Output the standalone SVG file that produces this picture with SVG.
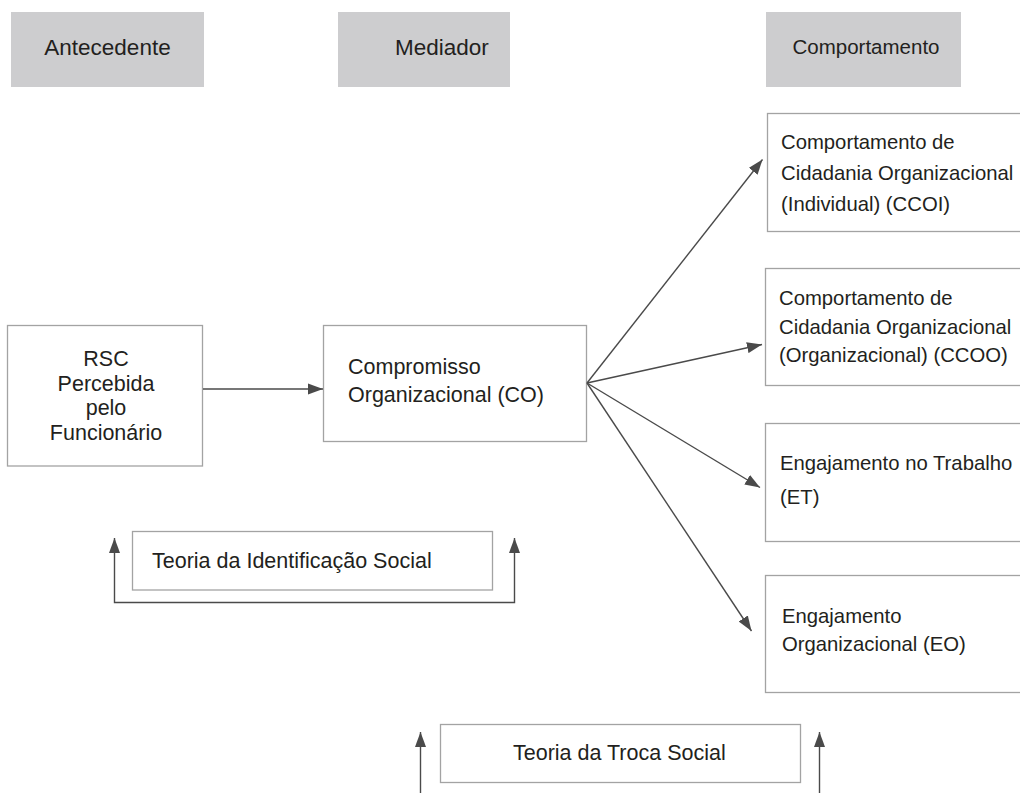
<svg xmlns="http://www.w3.org/2000/svg" width="1020" height="793" viewBox="0 0 1020 793">
<style>
text{font-family:"Liberation Sans",Arial,Helvetica,sans-serif;fill:#231f20;}
.hdr{fill:#cdcdcf;stroke:none;}
.box{fill:#ffffff;stroke:#a3a3a3;stroke-width:1.3;}
.h{font-size:22.5px;}
.t{font-size:21.5px;}
.r{font-size:20.3px;}
.con{fill:none;stroke:#4a4a4a;stroke-width:1.4;}
</style>
<defs>
<marker id="ah" markerUnits="userSpaceOnUse" markerWidth="16" markerHeight="12" refX="15" refY="5.5" orient="auto-start-reverse" viewBox="0 0 16 11">
<path d="M0,0 L15,5.5 L0,11 z" fill="#4a4a4a"/>
</marker>
</defs>
<rect width="1020" height="793" fill="#ffffff"/>

<g id="hdr-antecedente">
<rect class="hdr" x="11" y="12" width="193" height="75"/>
<text class="h" x="107.5" y="55" text-anchor="middle">Antecedente</text>
</g>
<g id="hdr-mediador">
<rect class="hdr" x="338" y="12" width="172" height="75"/>
<text class="h" x="395" y="55">Mediador</text>
</g>
<g id="hdr-comportamento">
<rect class="hdr" x="766" y="12" width="195" height="75"/>
<text class="r" x="792.5" y="54" style="font-size:20.5px">Comportamento</text>
</g>

<g id="node-rsc">
<rect class="box" x="7.5" y="325.5" width="195" height="140.5"/>
<text class="t" x="106" y="366" text-anchor="middle">RSC</text>
<text class="t" x="106" y="391" text-anchor="middle">Percebida</text>
<text class="t" x="106" y="415" text-anchor="middle">pelo</text>
<text class="t" x="106" y="440" text-anchor="middle">Funcionário</text>
</g>

<g id="node-co">
<rect class="box" x="323.5" y="325.5" width="263" height="116"/>
<text class="t" x="348" y="374">Compromisso</text>
<text class="t" x="348" y="402">Organizacional (CO)</text>
</g>

<g id="node-ccoi">
<rect class="box" x="767.5" y="113.5" width="260" height="118"/>
<text class="r" x="781" y="149">Comportamento de</text>
<text class="r" x="781" y="180">Cidadania Organizacional</text>
<text class="r" x="781" y="211">(Individual) (CCOI)</text>
</g>

<g id="node-ccoo">
<rect class="box" x="765.5" y="268.5" width="260" height="117"/>
<text class="r" x="779" y="305">Comportamento de</text>
<text class="r" x="779" y="334">Cidadania Organizacional</text>
<text class="r" x="779" y="362">(Organizacional) (CCOO)</text>
</g>

<g id="node-et">
<rect class="box" x="765.5" y="423.5" width="260" height="118"/>
<text class="r" x="780" y="470">Engajamento no Trabalho</text>
<text class="r" x="780" y="504">(ET)</text>
</g>

<g id="node-eo">
<rect class="box" x="765.5" y="575.5" width="260" height="117"/>
<text class="r" x="782" y="623">Engajamento</text>
<text class="r" x="782" y="651">Organizacional (EO)</text>
</g>

<g id="node-tis">
<rect class="box" x="132.5" y="531.5" width="360" height="58.5"/>
<text class="t" x="152" y="568">Teoria da Identificação Social</text>
</g>

<g id="node-tts">
<rect class="box" x="440.5" y="724.5" width="360" height="58"/>
<text class="t" x="513" y="760">Teoria da Troca Social</text>
</g>

<g id="connectors">
<line class="con" x1="203" y1="389" x2="323" y2="389" marker-end="url(#ah)"/>
<line class="con" x1="587" y1="383" x2="762.5" y2="159.5" marker-end="url(#ah)"/>
<line class="con" x1="587" y1="383" x2="762" y2="344.5" marker-end="url(#ah)"/>
<line class="con" x1="587" y1="383" x2="760" y2="487.5" marker-end="url(#ah)"/>
<line class="con" x1="587" y1="383" x2="751.5" y2="631" marker-end="url(#ah)"/>
<path class="con" d="M114.5,538 V602.5 H514.5 V538" marker-start="url(#ah)" marker-end="url(#ah)"/>
<line class="con" x1="420.5" y1="793" x2="420.5" y2="732" marker-end="url(#ah)"/>
<line class="con" x1="819.5" y1="793" x2="819.5" y2="732" marker-end="url(#ah)"/>
</g>
</svg>
